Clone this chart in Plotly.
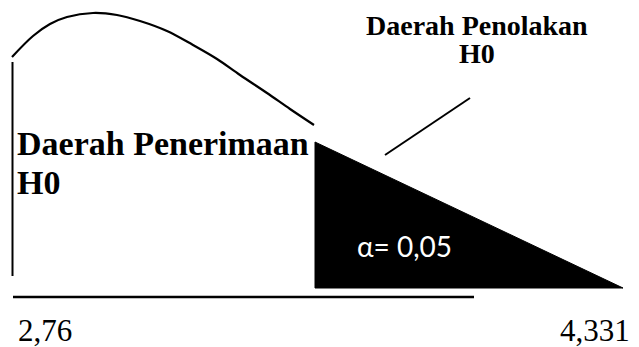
import plotly.graph_objects as go

# Sketch, in canvas units (x to the right, y downwards)
curve_x = [12, 33, 50, 67, 93, 117, 140, 167, 193, 217, 240, 267, 290, 314]
curve_y = [57, 36, 24, 17, 13, 15, 21, 31, 45, 59, 75, 93, 109, 125]

left_edge_x = [12.5, 12.5]
left_edge_y = [62, 276]

baseline_x = [13, 474]
baseline_y = [297, 297]

reject_x = [315, 315, 623, 315]
reject_y = [142, 288, 288, 142]

pointer_x = [385, 470]
pointer_y = [155, 98]

tick_labels = ["2,76", "4,331"]
alpha_label = "α= 0,05"
accept_label = ["Daerah Penerimaan", "H0"]
reject_label = ["Daerah Penolakan", "H0"]

line_style = dict(color="black", width=2)

fig = go.Figure()
fig.add_trace(go.Scatter(x=curve_x, y=curve_y, mode="lines",
                         line=dict(color="black", width=2.2, shape="spline")))
fig.add_trace(go.Scatter(x=left_edge_x, y=left_edge_y, mode="lines", line=line_style))
fig.add_trace(go.Scatter(x=baseline_x, y=baseline_y, mode="lines", line=dict(color="black", width=2.5)))
fig.add_trace(go.Scatter(x=reject_x, y=reject_y, mode="lines", fill="toself",
                         fillcolor="black", line=dict(color="black", width=1)))
fig.add_trace(go.Scatter(x=pointer_x, y=pointer_y, mode="lines", line=line_style))

serif = "Liberation Serif"
annotations = [
    dict(x=15, y=143, text="<b>%s</b>" % accept_label[0], xanchor="left",
         font=dict(family=serif, size=34, color="black")),
    dict(x=15, y=182, text="<b>%s</b>" % accept_label[1], xanchor="left",
         font=dict(family=serif, size=34, color="black")),
    dict(x=477, y=25, text="<b>%s</b>" % reject_label[0], xanchor="center",
         font=dict(family=serif, size=28, color="black")),
    dict(x=477, y=53, text="<b>%s</b>" % reject_label[1], xanchor="center",
         font=dict(family=serif, size=28, color="black")),
    dict(x=16, y=330, text=tick_labels[0], xanchor="left",
         font=dict(family=serif, size=31, color="black")),
    dict(x=632, y=330, text=tick_labels[1], xanchor="right",
         font=dict(family=serif, size=31, color="black")),
    dict(x=355, y=246, text=alpha_label, xanchor="left",
         font=dict(family="Lato", size=28, color="white")),
]
for a in annotations:
    a.update(xref="x", yref="y", showarrow=False, yanchor="middle")

# the page body adds an 8px offset, so the ranges start at 8
fig.update_layout(
    width=639, height=347,
    margin=dict(l=0, r=0, t=0, b=0),
    paper_bgcolor="white", plot_bgcolor="white",
    showlegend=False,
    annotations=annotations,
    xaxis=dict(range=[8, 647], visible=False),
    yaxis=dict(range=[355, 8], visible=False),
)

fig.write_html("out.html")
